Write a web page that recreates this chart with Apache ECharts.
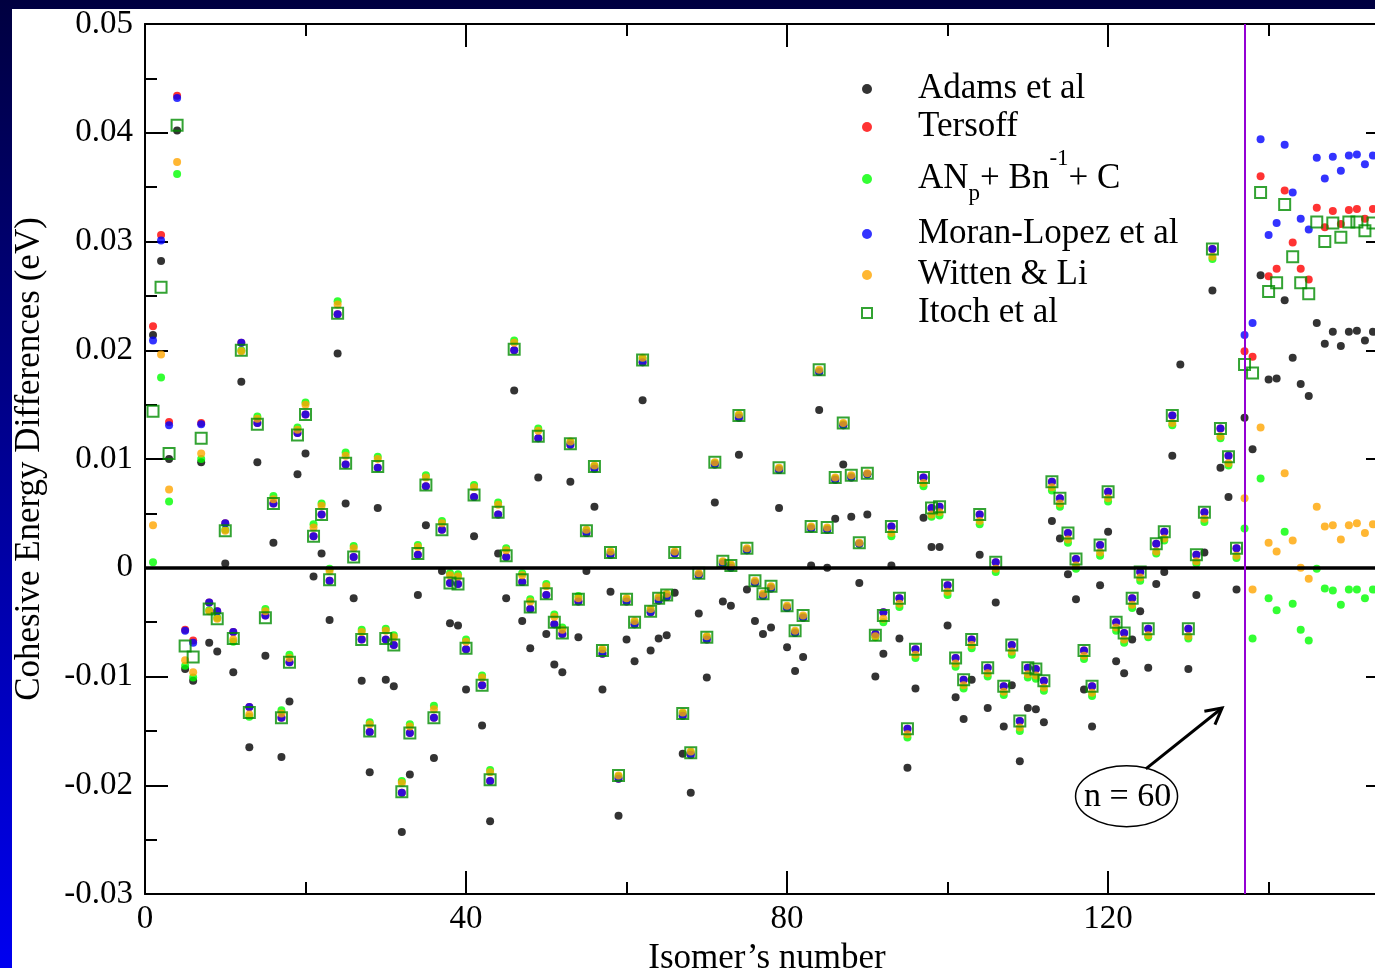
<!DOCTYPE html>
<html>
<head>
<meta charset="utf-8">
<title>Cohesive energy differences</title>
<script src="https://cdn.jsdelivr.net/npm/echarts@6/dist/echarts.min.js"></script>
<style>
  html, body { margin: 0; padding: 0; }
  body {
    width: 1375px; height: 968px; overflow: hidden; position: relative;
    background: linear-gradient(to bottom, #000040, #0000f0);
  }
  #paper { position: absolute; left: 12px; top: 9px; right: 0; bottom: 0; background: #fff; }
  #chart { position: absolute; left: 0; top: 0; width: 1375px; height: 968px; }
</style>
</head>
<body>
<div id="paper"></div>
<div id="chart"></div>
<script>
// isomer number = index + 1
var adams = [
  0.0214, 0.0282, 0.0100, 0.0402, -0.0093, -0.0104, 0.0097, -0.0069, -0.0077, 0.0004,
  -0.0096, 0.0171, -0.0165, 0.0097, -0.0081, 0.0023, -0.0174, -0.0123, 0.0086, 0.0105,
  -0.0008, 0.0013, -0.0048, 0.0197, 0.0059, -0.0028, -0.0104, -0.0188, 0.0055, -0.0103,
  -0.0109, -0.0243, -0.0190, -0.0025, 0.0039, -0.0175, -0.0003, -0.0051, -0.0053, -0.0112,
  0.0029, -0.0145, -0.0233, 0.0013, -0.0028, 0.0163, -0.0049, -0.0074, 0.0083, -0.0061,
  -0.0089, -0.0096, 0.0079, -0.0064, -0.0003, 0.0056, -0.0112, -0.0022, -0.0228, -0.0066,
  -0.0086, 0.0154, -0.0076, -0.0065, -0.0062, -0.0023, -0.0171, -0.0207, -0.0042, -0.0101,
  0.0060, -0.0031, -0.0035, 0.0104, -0.0020, -0.0049, -0.0061, -0.0055, 0.0055, -0.0073,
  -0.0095, -0.0082, 0.0002, 0.0145, 0.0000, 0.0045, 0.0095, 0.0047, -0.0014, 0.0049,
  -0.0100, -0.0079, 0.0002, -0.0065, -0.0184, -0.0111, 0.0046, 0.0019, 0.0019, -0.0053,
  -0.0119, -0.0139, -0.0103, 0.0012, -0.0129, -0.0032, -0.0146, -0.0108, -0.0178, -0.0129,
  -0.0130, -0.0142, 0.0043, 0.0027, -0.0006, -0.0029, -0.0112, -0.0146, -0.0016, 0.0033,
  -0.0086, -0.0097, -0.0066, -0.0040, -0.0092, -0.0015, -0.0004, 0.0103, 0.0187, -0.0093,
  -0.0025, 0.0014, 0.0255, 0.0092, 0.0065, -0.0020, 0.0138, 0.0109, 0.0269, 0.0173,
  0.0174, 0.0246, 0.0193, 0.0169, 0.0158, 0.0225, 0.0206, 0.0217, 0.0204, 0.0217,
  0.0218, 0.0209, 0.0217
];

var tersoff = [
  0.0222, 0.0306, 0.0134, 0.0434, -0.0057, -0.0067, 0.0133, -0.0032, -0.0040, 0.0041,
  -0.0059, 0.0207, -0.0128, 0.0133, -0.0044, 0.0059, -0.0138, -0.0087, 0.0124, 0.0141,
  0.0029, 0.0049, -0.0012, 0.0233, 0.0095, 0.0010, -0.0066, -0.0151, 0.0092, -0.0066,
  -0.0071, -0.0207, -0.0152, 0.0012, 0.0075, -0.0138, 0.0035, -0.0014, -0.0015, -0.0075,
  0.0065, -0.0108, -0.0196, 0.0049, 0.0010, 0.0200, -0.0013, -0.0038, 0.0119, -0.0025,
  -0.0052, -0.0061, 0.0113, -0.0031, 0.0032, 0.0091, -0.0079, 0.0012, -0.0194, -0.0031,
  -0.0052, 0.0189, -0.0041, -0.0030, -0.0027, 0.0013, -0.0136, -0.0172, -0.0007, -0.0066,
  0.0095, 0.0004, 0.0000, 0.0138, 0.0016, -0.0014, -0.0026, -0.0019, 0.0090, -0.0037,
  -0.0060, -0.0046, 0.0036, 0.0180, 0.0035, 0.0081, 0.0131, 0.0083, 0.0022, 0.0086,
  -0.0061, -0.0041, 0.0038, -0.0028, -0.0148, -0.0075, 0.0083, 0.0055, 0.0056, -0.0016,
  -0.0083, -0.0103, -0.0066, 0.0049, -0.0092, 0.0005, -0.0109, -0.0071, -0.0141, -0.0092,
  -0.0093, -0.0104, 0.0079, 0.0064, 0.0032, 0.0008, -0.0076, -0.0109, 0.0021, 0.0070,
  -0.0050, -0.0060, -0.0028, -0.0004, -0.0056, 0.0022, 0.0033, 0.0140, 0.0224, -0.0056,
  0.0012, 0.0051, 0.0293, 0.0128, 0.0103, 0.0018, 0.0199, 0.0194, 0.0360, 0.0268,
  0.0275, 0.0347, 0.0299, 0.0275, 0.0265, 0.0331, 0.0313, 0.0328, 0.0316, 0.0329,
  0.0330, 0.0321, 0.0330
];

var anBnC = [
  0.0005, 0.0175, 0.0061, 0.0362, -0.0090, -0.0101, 0.0100, -0.0039, -0.0046, 0.0035,
  -0.0068, 0.0200, -0.0137, 0.0139, -0.0038, 0.0066, -0.0131, -0.0080, 0.0129, 0.0152,
  0.0040, 0.0059, -0.0001, 0.0245, 0.0106, 0.0020, -0.0057, -0.0142, 0.0102, -0.0056,
  -0.0062, -0.0196, -0.0144, 0.0021, 0.0085, -0.0127, 0.0043, -0.0005, -0.0006, -0.0066,
  0.0076, -0.0099, -0.0186, 0.0060, 0.0018, 0.0209, -0.0005, -0.0029, 0.0128, -0.0015,
  -0.0043, -0.0055, 0.0115, -0.0026, 0.0034, 0.0093, -0.0076, 0.0014, -0.0192, -0.0029,
  -0.0050, 0.0192, -0.0039, -0.0028, -0.0025, 0.0014, -0.0134, -0.0170, -0.0006, -0.0064,
  0.0096, 0.0005, 0.0002, 0.0140, 0.0017, -0.0013, -0.0025, -0.0018, 0.0091, -0.0036,
  -0.0059, -0.0045, 0.0037, 0.0181, 0.0036, 0.0082, 0.0132, 0.0084, 0.0022, 0.0086,
  -0.0064, -0.0050, 0.0029, -0.0036, -0.0156, -0.0083, 0.0075, 0.0047, 0.0048, -0.0025,
  -0.0091, -0.0111, -0.0074, 0.0040, -0.0100, -0.0004, -0.0117, -0.0080, -0.0150, -0.0101,
  -0.0102, -0.0113, 0.0071, 0.0056, 0.0023, -0.0001, -0.0084, -0.0118, 0.0011, 0.0061,
  -0.0058, -0.0069, -0.0037, -0.0012, -0.0064, 0.0013, 0.0025, 0.0131, 0.0217, -0.0065,
  0.0004, 0.0042, 0.0284, 0.0119, 0.0094, 0.0009, 0.0036, -0.0065, 0.0082, -0.0028,
  -0.0039, 0.0033, -0.0033, -0.0057, -0.0067, -0.0001, -0.0019, -0.0021, -0.0034, -0.0020,
  -0.0020, -0.0028, -0.0020
];

var moranLopez = [
  0.0209, 0.0301, 0.0131, 0.0432, -0.0058, -0.0069, 0.0132, -0.0032, -0.0040, 0.0041,
  -0.0059, 0.0207, -0.0128, 0.0133, -0.0044, 0.0059, -0.0138, -0.0087, 0.0124, 0.0141,
  0.0029, 0.0049, -0.0012, 0.0233, 0.0095, 0.0010, -0.0066, -0.0151, 0.0092, -0.0066,
  -0.0071, -0.0207, -0.0152, 0.0012, 0.0075, -0.0138, 0.0035, -0.0014, -0.0015, -0.0075,
  0.0065, -0.0108, -0.0196, 0.0049, 0.0010, 0.0200, -0.0013, -0.0038, 0.0119, -0.0025,
  -0.0052, -0.0061, 0.0113, -0.0031, 0.0032, 0.0091, -0.0079, 0.0012, -0.0194, -0.0031,
  -0.0052, 0.0189, -0.0041, -0.0030, -0.0027, 0.0013, -0.0136, -0.0172, -0.0007, -0.0066,
  0.0095, 0.0004, 0.0000, 0.0138, 0.0016, -0.0014, -0.0026, -0.0019, 0.0090, -0.0037,
  -0.0060, -0.0046, 0.0036, 0.0180, 0.0035, 0.0081, 0.0131, 0.0083, 0.0022, 0.0086,
  -0.0061, -0.0041, 0.0038, -0.0028, -0.0148, -0.0075, 0.0083, 0.0055, 0.0056, -0.0016,
  -0.0083, -0.0103, -0.0066, 0.0049, -0.0092, 0.0005, -0.0109, -0.0071, -0.0141, -0.0092,
  -0.0093, -0.0104, 0.0079, 0.0064, 0.0032, 0.0008, -0.0076, -0.0109, 0.0021, 0.0070,
  -0.0050, -0.0060, -0.0028, -0.0004, -0.0056, 0.0022, 0.0033, 0.0140, 0.0224, -0.0056,
  0.0012, 0.0051, 0.0293, 0.0128, 0.0103, 0.0018, 0.0214, 0.0225, 0.0394, 0.0306,
  0.0317, 0.0389, 0.0345, 0.0321, 0.0311, 0.0377, 0.0358, 0.0378, 0.0365, 0.0379,
  0.0380, 0.0371, 0.0379
];

var wittenLi = [
  0.0039, 0.0196, 0.0072, 0.0373, -0.0085, -0.0096, 0.0105, -0.0040, -0.0047, 0.0034,
  -0.0066, 0.0199, -0.0135, 0.0137, -0.0040, 0.0063, -0.0134, -0.0083, 0.0127, 0.0150,
  0.0037, 0.0057, -0.0003, 0.0242, 0.0103, 0.0018, -0.0059, -0.0144, 0.0100, -0.0058,
  -0.0064, -0.0198, -0.0146, 0.0019, 0.0083, -0.0130, 0.0041, -0.0007, -0.0008, -0.0068,
  0.0074, -0.0101, -0.0188, 0.0058, 0.0016, 0.0207, -0.0007, -0.0031, 0.0126, -0.0017,
  -0.0045, -0.0057, 0.0116, -0.0028, 0.0035, 0.0094, -0.0075, 0.0015, -0.0191, -0.0028,
  -0.0049, 0.0193, -0.0038, -0.0027, -0.0024, 0.0015, -0.0133, -0.0169, -0.0005, -0.0063,
  0.0097, 0.0006, 0.0003, 0.0141, 0.0018, -0.0012, -0.0024, -0.0017, 0.0092, -0.0035,
  -0.0058, -0.0044, 0.0038, 0.0182, 0.0037, 0.0083, 0.0133, 0.0085, 0.0023, 0.0087,
  -0.0063, -0.0047, 0.0032, -0.0033, -0.0153, -0.0080, 0.0078, 0.0049, 0.0051, -0.0022,
  -0.0088, -0.0108, -0.0071, 0.0043, -0.0097, -0.0001, -0.0114, -0.0077, -0.0147, -0.0098,
  -0.0099, -0.0110, 0.0074, 0.0059, 0.0026, 0.0002, -0.0081, -0.0115, 0.0014, 0.0064,
  -0.0055, -0.0066, -0.0034, -0.0009, -0.0062, 0.0015, 0.0027, 0.0133, 0.0220, -0.0063,
  0.0006, 0.0045, 0.0286, 0.0121, 0.0096, 0.0011, 0.0064, -0.0020, 0.0129, 0.0023,
  0.0015, 0.0087, 0.0025, 0.0000, -0.0010, 0.0056, 0.0038, 0.0039, 0.0026, 0.0039,
  0.0041, 0.0032, 0.0040
];

var itoch = [
  0.0144, 0.0258, 0.0105, 0.0407, -0.0072, -0.0082, 0.0119, -0.0038, -0.0047, 0.0034,
  -0.0065, 0.0200, -0.0133, 0.0132, -0.0046, 0.0059, -0.0138, -0.0087, 0.0122, 0.0141,
  0.0029, 0.0049, -0.0011, 0.0234, 0.0096, 0.0010, -0.0066, -0.0150, 0.0093, -0.0065,
  -0.0071, -0.0206, -0.0152, 0.0013, 0.0076, -0.0138, 0.0035, -0.0014, -0.0015, -0.0074,
  0.0067, -0.0108, -0.0195, 0.0051, 0.0011, 0.0201, -0.0011, -0.0036, 0.0121, -0.0024,
  -0.0050, -0.0060, 0.0114, -0.0029, 0.0034, 0.0093, -0.0076, 0.0014, -0.0191, -0.0029,
  -0.0050, 0.0191, -0.0040, -0.0028, -0.0025, 0.0014, -0.0134, -0.0170, -0.0005, -0.0064,
  0.0097, 0.0006, 0.0002, 0.0140, 0.0018, -0.0012, -0.0024, -0.0017, 0.0092, -0.0035,
  -0.0058, -0.0044, 0.0038, 0.0182, 0.0037, 0.0083, 0.0133, 0.0085, 0.0023, 0.0087,
  -0.0062, -0.0044, 0.0038, -0.0028, -0.0148, -0.0075, 0.0083, 0.0055, 0.0056, -0.0016,
  -0.0083, -0.0103, -0.0066, 0.0049, -0.0092, 0.0005, -0.0109, -0.0071, -0.0141, -0.0092,
  -0.0093, -0.0104, 0.0079, 0.0064, 0.0032, 0.0008, -0.0076, -0.0109, 0.0021, 0.0070,
  -0.0050, -0.0060, -0.0028, -0.0004, -0.0056, 0.0022, 0.0033, 0.0140, 0.0224, -0.0056,
  0.0012, 0.0051, 0.0293, 0.0128, 0.0102, 0.0018, 0.0187, 0.0179, 0.0345, 0.0254,
  0.0262, 0.0334, 0.0286, 0.0262, 0.0252, 0.0318, 0.0300, 0.0317, 0.0304, 0.0318,
  0.0318, 0.0310, 0.0317
];

var xTicks = [0, 40, 80, 120];
var n60Isomer = 137;   // vertical line: first isomer with n = 60

var font = '"Liberation Serif", "Times New Roman", serif';

function toPoints(vals) {
  return vals.map(function (v, i) { return [i + 1, v]; });
}

function dotSeries(name, vals, color) {
  return {
    name: name,
    type: 'scatter',
    data: toPoints(vals),
    symbol: 'circle',
    symbolSize: 8,
    itemStyle: { color: color },
    emphasis: { disabled: true },
    animation: false
  };
}

var black = { color: '#000', width: 2 };

function xAxisDef(pos, major) {
  return {
    type: 'value',
    position: pos,
    min: 0,
    max: 155,
    interval: major ? 40 : 20,
    axisLine: { show: major, onZero: false, lineStyle: black },
    axisTick: { show: true, inside: true, length: major ? 23 : 12, lineStyle: black },
    axisLabel: { show: false },
    splitLine: { show: false }
  };
}

function yAxisDef(pos) {
  return {
    type: 'value',
    position: pos,
    min: -0.03,
    max: 0.05,
    interval: 0.01,
    axisLine: { show: true, onZero: false, lineStyle: black },
    axisTick: { show: true, inside: true, length: 23, lineStyle: black },
    minorTick: { show: true, splitNumber: 2, length: 12, lineStyle: black },
    axisLabel: { show: false },
    splitLine: { show: false },
    minorSplitLine: { show: false }
  };
}

var xBottom = xAxisDef('bottom', true);
xBottom.axisLabel = {
  show: true, margin: 9, fontSize: 33, fontFamily: font, color: '#000',
  showMaxLabel: false,
  formatter: function (v) { return xTicks.indexOf(v) >= 0 ? String(v) : ''; }
};
xBottom.name = 'Isomer\u2019s number';
xBottom.nameLocation = 'middle';
xBottom.nameGap = 44;
xBottom.nameTextStyle = { fontSize: 35, fontFamily: font, color: '#000' };

var yLeft = yAxisDef('left');
yLeft.axisLabel = {
  show: true, margin: 12, fontSize: 33, fontFamily: font, color: '#000',
  formatter: function (v) { return Math.abs(v) < 1e-9 ? '0' : v.toFixed(2); }
};
yLeft.name = 'Cohesive Energy Differences (eV)';
yLeft.nameLocation = 'middle';
yLeft.nameGap = 98;
yLeft.nameTextStyle = { fontSize: 35, fontFamily: font, color: '#000' };

var names = ['Adams et al', 'Tersoff', 'AN', 'Moran-Lopez et al', 'Witten & Li', 'Itoch et al'];

var adamsSeries = dotSeries(names[0], adams, '#000');
adamsSeries.markLine = {
  silent: true, symbol: ['none', 'none'], label: { show: false }, animation: false,
  lineStyle: { color: '#000', width: 3.5, type: 'solid' },
  data: [{ yAxis: 0 }]
};

var itochSeries = {
  name: names[5],
  type: 'scatter',
  data: toPoints(itoch),
  symbol: 'rect',
  symbolSize: 11,
  itemStyle: { color: 'rgba(0,0,0,0)', borderColor: '#008c00', borderWidth: 2 },
  emphasis: { disabled: true },
  animation: false,
  markLine: {
    silent: true, symbol: ['none', 'none'], label: { show: false }, animation: false,
    lineStyle: { color: '#9400d3', width: 2, type: 'solid' },
    data: [{ xAxis: n60Isomer }]
  }
};

var legendData = names.map(function (nm) {
  return nm === 'Itoch et al' ? { name: nm, icon: 'path://M0,0L10,0L10,10L0,10Z' } : { name: nm };
});

var option = {
  animation: false,
  grid: { left: 145, top: 24, width: 1244, height: 870, containLabel: false, outerBoundsMode: 'none' },
  xAxis: [xBottom, xAxisDef('bottom', false), xAxisDef('top', true), xAxisDef('top', false)],
  yAxis: [yLeft, yAxisDef('right')],
  legend: {
    orient: 'vertical',
    left: 856,
    top: 60,
    padding: [10, 15, 4, 5],
    backgroundColor: '#fff',
    itemWidth: 92,
    itemHeight: 10,
    itemGap: 0,
    selectedMode: false,
    symbolKeepAspect: true,
    data: legendData,
    formatter: function (name) {
      if (name === 'AN') return '{a|AN}{b|p}{a|+ Bn}{c|-1}{a|+ C}';
      if (name === 'Moran-Lopez et al') return '{m|' + name + '}';
      return name;
    },
    textStyle: {
      fontFamily: font, fontSize: 35, color: '#000', lineHeight: 38,
      rich: {
        a: { fontFamily: font, fontSize: 35, lineHeight: 66, verticalAlign: 'middle', color: '#000' },
        b: { fontFamily: font, fontSize: 23, verticalAlign: 'bottom', padding: [0, 0, 7, 0], color: '#000' },
        c: { fontFamily: font, fontSize: 23, verticalAlign: 'top', padding: [1, 0, 0, 0], color: '#000' },
        m: { fontFamily: font, fontSize: 35, lineHeight: 44, color: '#000' }
      }
    }
  },
  series: [
    adamsSeries,
    dotSeries(names[1], tersoff, '#ff0000'),
    dotSeries(names[2], anBnC, '#00ff00'),
    dotSeries(names[3], moranLopez, '#0000ff'),
    dotSeries(names[4], wittenLi, '#ffa500'),
    itochSeries
  ]
};

var chart = echarts.init(document.getElementById('chart'), null, { renderer: 'canvas' });
chart.setOption(option);

// "n = 60" callout, anchored in data coordinates
var ellC = chart.convertToPixel({ xAxisIndex: 0, yAxisIndex: 0 }, [122.3, -0.0210]);
var arrFrom = chart.convertToPixel({ xAxisIndex: 0, yAxisIndex: 0 }, [124.7, -0.0185]);
var arrTo = chart.convertToPixel({ xAxisIndex: 0, yAxisIndex: 0 }, [134.2, -0.0129]);
var dx = arrFrom[0] - arrTo[0], dy = arrFrom[1] - arrTo[1];
var len = Math.sqrt(dx * dx + dy * dy);
dx /= len; dy /= len;
function arm(angle) {
  var c = Math.cos(angle), s = Math.sin(angle);
  return [arrTo[0] + 18 * (dx * c - dy * s), arrTo[1] + 18 * (dx * s + dy * c)];
}

chart.setOption({
  graphic: [
    { type: 'ellipse', silent: true, shape: { cx: ellC[0], cy: ellC[1], rx: 51, ry: 30.5 },
      style: { fill: 'none', stroke: '#000', lineWidth: 1.5 } },
    { type: 'text', silent: true, x: ellC[0] + 1, y: ellC[1] + 1,
      style: { text: 'n = 60', fontFamily: font, fontSize: 34, fill: '#000', align: 'center', verticalAlign: 'middle' } },
    { type: 'polyline', silent: true, shape: { points: [arrFrom, arrTo] },
      style: { stroke: '#000', lineWidth: 3, fill: null } },
    { type: 'polyline', silent: true, shape: { points: [arm(0.49), arrTo, arm(-0.49)] },
      style: { stroke: '#000', lineWidth: 3, fill: null } }
  ]
});
</script>
</body>
</html>
